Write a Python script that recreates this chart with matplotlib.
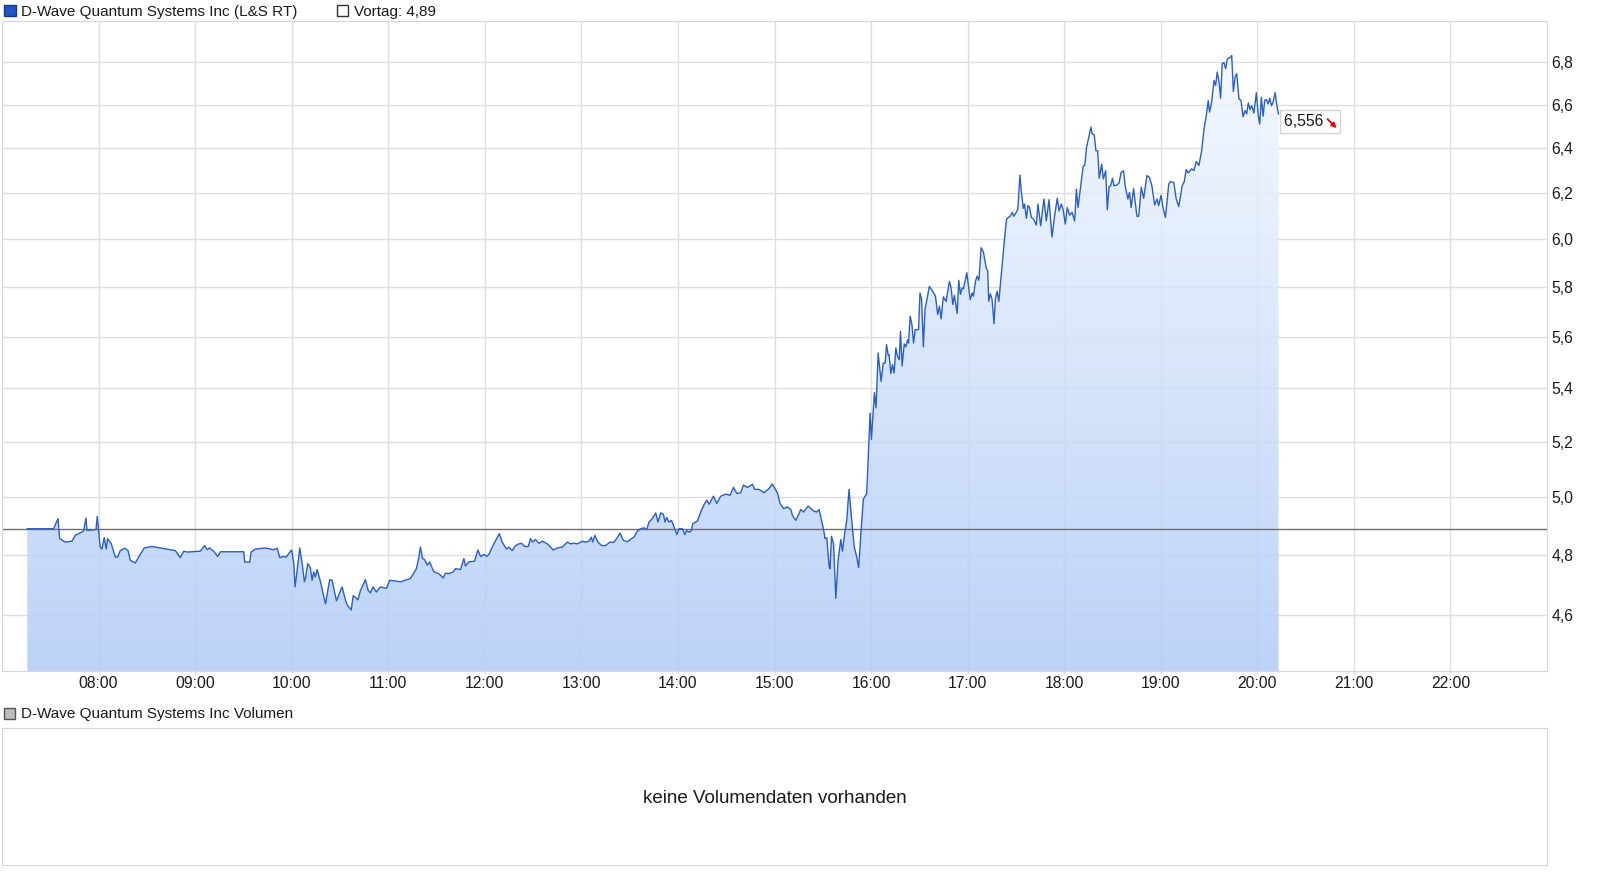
import numpy as np
import matplotlib
matplotlib.use('Agg')
import matplotlib.pyplot as plt
import matplotlib.transforms as mtransforms
from matplotlib.patches import Rectangle, FancyArrowPatch
from matplotlib.ticker import FixedLocator, FuncFormatter, NullLocator

plt.rcParams['font.family'] = ['Liberation Sans', 'DejaVu Sans']

# ---- data ----
series_name = 'D-Wave Quantum Systems Inc (L&S RT)'
volume_name = 'D-Wave Quantum Systems Inc Volumen'
no_volume_text = 'keine Volumendaten vorhanden'
prev_close = 4.89
last_price = 6.556

# minutes since midnight
minutes = [
    435.7, 452.0, 454.8, 455.8, 459.3, 463.5, 465.5, 470.7, 472.2, 472.8, 478.4, 479.2,
    481.0, 482.1, 483.5, 484.8, 485.6, 487.9, 490.4, 491.8, 493.5, 496.2, 498.3, 499.7,
    502.8, 505.9, 508.4, 513.2, 518.4, 522.5, 527.7, 530.8, 532.9, 535.0, 543.2, 545.9,
    547.4, 549.0, 551.5, 554.0, 555.7, 570.2, 570.8, 573.9, 574.8, 577.4, 583.7, 588.8,
    591.0, 592.6, 594.7, 596.7, 598.4, 600.0, 601.3, 602.1, 603.4, 605.0, 606.5, 607.9,
    608.7, 610.0, 611.6, 612.7, 613.7, 614.7, 615.8, 617.9, 621.0, 623.6, 625.1, 627.8,
    631.3, 633.4, 634.5, 637.0, 638.2, 639.7, 641.1, 642.8, 645.8, 647.5, 648.9, 650.6,
    652.6, 655.1, 658.9, 660.9, 663.4, 667.6,
    673.8, 677.5, 679.0, 680.0, 681.3, 682.5, 684.2, 685.8, 688.3, 691.4, 694.1, 695.6,
    697.6, 700.4, 701.8, 704.9, 707.0, 708.0, 710.1, 713.6, 715.7, 717.4, 719.8, 721.1,
    722.5, 725.6, 729.0, 730.8, 733.5, 734.9, 737.0, 739.1, 741.2, 742.8, 744.7, 747.0,
    748.4, 749.7, 751.5, 753.6, 755.7, 758.8, 762.5, 765.0, 768.1, 771.3, 773.3, 775.4,
    777.5, 780.6, 782.6, 784.7, 786.2, 787.0, 788.4, 790.3, 792.6, 795.1, 797.7, 800.2,
    802.3, 804.0, 806.1, 808.6, 811.1, 812.7, 814.8,
    816.8, 818.9, 820.6, 822.0, 824.1, 826.2, 827.6, 829.3, 831.0, 832.0, 833.0, 834.5,
    836.0, 837.6, 839.3, 840.7, 842.8, 844.3, 845.4, 846.9, 848.4, 849.2, 852.1, 854.6,
    856.6, 857.9, 859.3, 862.1, 864.1, 866.6, 869.7, 872.4, 874.5, 876.6, 879.0, 880.7,
    883.2, 886.3, 887.7, 890.4, 893.5, 896.6, 898.7, 900.2, 901.8, 903.5, 905.6, 908.1,
    910.1, 911.2, 913.2, 915.3, 916.3, 918.0, 920.9, 924.2, 926.3, 927.7, 930.4, 931.4,
    932.5, 933.9, 934.5, 935.4, 936.7, 938.1, 939.5, 941.2, 942.2, 943.7, 944.9, 946.3,
    947.8, 949.5, 951.1, 952.3, 953.8, 955.2, 957.3, 959.4, 960.2, 962.1, 963.1, 964.4,
    966.2, 967.6, 968.8, 969.6, 970.7, 971.2, 972.3, 973.3, 974.3, 975.4, 976.4, 977.5,
    978.3, 979.3, 980.6, 981.6, 982.7, 983.3, 984.3, 985.4, 986.4, 987.4, 989.5, 990.4,
    991.4, 992.5, 993.5, 994.5, 996.2, 998.3, 1000.0, 1001.4, 1002.5, 1003.5, 1004.9, 1006.6,
    1008.7, 1009.7, 1010.8, 1011.8, 1013.5, 1014.5, 1015.5, 1016.6, 1017.4, 1019.5, 1021.6, 1022.8,
    1023.6, 1024.9, 1025.9, 1027.0, 1028.4, 1029.8, 1031.5, 1032.5, 1033.1, 1034.1, 1035.2, 1036.4,
    1037.3, 1038.3, 1039.4,
    1041.9, 1042.9, 1044.2, 1045.4, 1046.6, 1047.7, 1048.7, 1050.2, 1051.2, 1052.5, 1053.3, 1054.6,
    1055.4, 1056.5, 1057.5, 1058.5, 1059.6, 1061.0, 1062.7, 1063.7, 1065.4, 1067.4, 1068.9, 1070.6,
    1072.4, 1074.1, 1075.7, 1076.8, 1078.2, 1079.3, 1080.7, 1081.9, 1083.4, 1084.9, 1086.5, 1087.6,
    1088.6, 1090.3, 1091.8, 1092.8, 1093.9, 1095.3, 1096.6, 1097.4, 1098.7, 1099.7, 1100.8, 1101.8,
    1103.3, 1104.3, 1105.8, 1106.8, 1107.9, 1108.9, 1110.0, 1111.0, 1112.7, 1114.1, 1115.4, 1116.9,
    1117.9, 1119.6, 1120.6, 1121.6, 1123.1, 1125.2, 1126.3, 1127.9, 1129.4, 1131.4, 1132.9, 1134.5,
    1136.2, 1137.7, 1138.7, 1140.2, 1141.4, 1142.9, 1145.0, 1146.0, 1148.1, 1149.6, 1151.2, 1153.3,
    1154.6, 1155.8, 1157.1, 1159.2, 1160.6, 1162.1, 1163.7, 1165.4,
    1166.9, 1168.3, 1169.5, 1170.3, 1171.6, 1173.1, 1174.1, 1175.1, 1176.2, 1177.2, 1178.2, 1179.3,
    1180.3, 1181.4, 1183.4, 1184.1, 1185.1, 1186.2, 1187.2, 1188.6, 1189.9, 1191.1, 1192.4, 1193.4,
    1194.4, 1195.5, 1196.5, 1197.9, 1199.4, 1200.6, 1201.5, 1202.5, 1203.6, 1204.6, 1205.6, 1206.7,
    1207.7, 1208.8, 1209.8, 1211.1, 1211.9, 1213.2,
]
prices = [
    4.890, 4.890, 4.925, 4.856, 4.844, 4.847, 4.867, 4.882, 4.927, 4.884, 4.887, 4.933,
    4.827, 4.820, 4.859, 4.820, 4.856, 4.838, 4.793, 4.793, 4.815, 4.823, 4.815, 4.782,
    4.773, 4.802, 4.824, 4.829, 4.824, 4.820, 4.815, 4.791, 4.813, 4.810, 4.813, 4.832,
    4.818, 4.824, 4.813, 4.795, 4.811, 4.811, 4.776, 4.776, 4.810, 4.820, 4.824, 4.818,
    4.823, 4.791, 4.795, 4.793, 4.807, 4.817, 4.771, 4.693, 4.749, 4.824, 4.771, 4.710,
    4.726, 4.771, 4.757, 4.715, 4.743, 4.726, 4.751, 4.710, 4.637, 4.717, 4.715, 4.647,
    4.693, 4.650, 4.633, 4.617, 4.664, 4.658, 4.650, 4.682, 4.717, 4.682, 4.673, 4.693,
    4.676, 4.693, 4.688, 4.715, 4.713, 4.710,
    4.721, 4.754, 4.793, 4.827, 4.788, 4.785, 4.766, 4.776, 4.743, 4.737, 4.723, 4.739,
    4.737, 4.743, 4.754, 4.751, 4.788, 4.763, 4.777, 4.779, 4.817, 4.795, 4.802, 4.795,
    4.802, 4.838, 4.873, 4.844, 4.820, 4.827, 4.815, 4.832, 4.838, 4.840, 4.829, 4.829,
    4.856, 4.844, 4.853, 4.840, 4.847, 4.838, 4.817, 4.824, 4.827, 4.844, 4.838, 4.840,
    4.838, 4.847, 4.844, 4.847, 4.861, 4.844, 4.867, 4.844, 4.832, 4.832, 4.844, 4.843,
    4.859, 4.875, 4.850, 4.845, 4.856, 4.861, 4.882,
    4.890, 4.893, 4.887, 4.913, 4.925, 4.945, 4.913, 4.945, 4.940, 4.913, 4.929, 4.913,
    4.919, 4.896, 4.870, 4.890, 4.890, 4.870, 4.884, 4.878, 4.884, 4.907, 4.917, 4.954,
    4.978, 4.990, 4.975, 5.004, 4.978, 5.004, 5.011, 5.007, 5.035, 5.013, 5.016, 5.043,
    5.035, 5.046, 5.028, 5.028, 5.016, 5.031, 5.047, 5.031, 5.016, 4.978, 4.960, 4.966,
    4.957, 4.936, 4.919, 4.943, 4.957, 4.948, 4.969, 4.952, 4.948, 4.957, 4.890, 4.856,
    4.859, 4.763, 4.754, 4.864, 4.838, 4.655, 4.782, 4.853, 4.813, 4.878, 4.919, 5.028,
    4.931, 4.829, 4.793, 4.757, 4.884, 4.993, 5.013, 5.307, 5.209, 5.384, 5.326, 5.537,
    5.427, 5.498, 5.498, 5.570, 5.527, 5.530, 5.457, 5.492, 5.459, 5.557, 5.524, 5.511,
    5.622, 5.486, 5.573, 5.561, 5.589, 5.576, 5.683, 5.649, 5.576, 5.629, 5.629, 5.777,
    5.750, 5.561, 5.709, 5.743, 5.804, 5.784, 5.764, 5.690, 5.723, 5.672, 5.761, 5.743,
    5.825, 5.798, 5.730, 5.767, 5.694, 5.829, 5.771, 5.798, 5.794, 5.860, 5.750, 5.777,
    5.764, 5.825, 5.846, 5.829, 5.965, 5.947, 5.881, 5.867, 5.743, 5.774, 5.750, 5.653,
    5.756, 5.784, 5.743,
    5.923, 6.000, 6.087, 6.094, 6.101, 6.116, 6.099, 6.116, 6.130, 6.280, 6.210, 6.133,
    6.152, 6.090, 6.145, 6.137, 6.094, 6.087, 6.061, 6.152, 6.058, 6.174, 6.079, 6.171,
    6.010, 6.104, 6.177, 6.122, 6.152, 6.130, 6.065, 6.137, 6.104, 6.116, 6.079, 6.217,
    6.137, 6.235, 6.319, 6.322, 6.404, 6.450, 6.496, 6.465, 6.460, 6.388, 6.388, 6.265,
    6.328, 6.262, 6.299, 6.127, 6.229, 6.232, 6.265, 6.232, 6.235, 6.244, 6.292, 6.298,
    6.232, 6.174, 6.203, 6.137, 6.220, 6.099, 6.099, 6.225, 6.177, 6.277, 6.270, 6.232,
    6.148, 6.174, 6.145, 6.190, 6.137, 6.094, 6.240, 6.250, 6.247, 6.174, 6.141, 6.232,
    6.250, 6.304, 6.289, 6.307, 6.299, 6.340, 6.322, 6.388,
    6.488, 6.549, 6.619, 6.565, 6.611, 6.714, 6.690, 6.754, 6.707, 6.630, 6.794, 6.799,
    6.770, 6.817, 6.826, 6.833, 6.662, 6.731, 6.746, 6.627, 6.619, 6.544, 6.572, 6.557,
    6.608, 6.577, 6.595, 6.561, 6.656, 6.549, 6.510, 6.635, 6.546, 6.619, 6.624, 6.603,
    6.630, 6.595, 6.611, 6.656, 6.608, 6.556,
]

hour_ticks = list(range(8, 23))
price_ticks = [4.6, 4.8, 5.0, 5.2, 5.4, 5.6, 5.8, 6.0, 6.2, 6.4, 6.6, 6.8]

W, H = 1611, 881
grid_col = '#dedede'
spine_col = '#d6d6d6'
text_col = '#1a1a1a'
line_col = '#2a5fc9'
fs = 11.3
fs_leg = 11.0

fig = plt.figure(figsize=(W / 100, H / 100), dpi=100)
fig.patch.set_facecolor('white')
# pixel coords from the top-left corner
px = mtransforms.Affine2D().scale(1 / W, -1 / H).translate(0, 1) + fig.transFigure


def px_box(x0, y0, x1, y1):
    return [x0 / W, 1 - y1 / H, (x1 - x0) / W, (y1 - y0) / H]


ax = fig.add_axes(px_box(2, 21, 1547, 671))
ax_vol = fig.add_axes(px_box(2, 728, 1547, 865))

x = np.array(minutes) / 60.0
y = np.array(prices)
ymin, ymax = 4.422, 7.002

ax.set_yscale('log')
ax.set_axisbelow(True)
ax.grid(True, color=grid_col, lw=1.0)

# gradient area under the line
area = ax.fill_between(x, y, ymin, facecolor='none', edgecolor='none')
t = np.linspace(0, 1, 256)[:, None, None]
top_rgb = np.array([246.8, 250.3, 255.0]) / 255
bot_rgb = np.array([176.2, 203.2, 246.8]) / 255
img = np.ones((256, 2, 4))
img[:, :, :3] = top_rgb + (bot_rgb - top_rgb) * t
img[:, :, 3] = 0.85
im = ax.imshow(img, extent=(0, 1, 0, 1), transform=ax.transAxes, aspect='auto',
               interpolation='bilinear', zorder=1)
im.set_clip_path(area.get_paths()[0], transform=ax.transData)

ax.axhline(prev_close, color='#6e6e6e', lw=1.0, zorder=2.5)
ax.plot(x, y, color=line_col, lw=1.0, zorder=3)

ax.set_xlim(7, 23)
ax.set_ylim(ymin, ymax)

ax.xaxis.set_major_locator(FixedLocator(hour_ticks))
ax.xaxis.set_major_formatter(FuncFormatter(lambda v, _: '%02d:00' % int(round(v))))
ax.yaxis.set_major_locator(FixedLocator(price_ticks))
ax.yaxis.set_minor_locator(NullLocator())
ax.yaxis.set_major_formatter(FuncFormatter(lambda v, _: ('%.1f' % v).replace('.', ',')))
ax.yaxis.tick_right()
ax.tick_params(axis='y', length=0, pad=3.3, labelsize=fs, labelcolor=text_col)
ax.tick_params(axis='x', length=1.8, width=1, color=grid_col, pad=1.5,
               labelsize=fs, labelcolor=text_col)
for s in ax.spines.values():
    s.set_color(spine_col)

# last price box with a small red down arrow inside
ax.annotate(('%.3f' % last_price).replace('.', ',') + '   ', xy=(x[-1], last_price),
            xytext=(5, -7), textcoords='offset pixels', ha='left', va='center',
            fontsize=fs, color=text_col, zorder=5,
            bbox=dict(boxstyle='square,pad=0.25', fc='white', ec='#d4d4d4', lw=1))
lx, ly = ax.transData.transform((x[-1], last_price))
arrow = FancyArrowPatch((lx + 49, ly - 5), (lx + 58, ly - 14), arrowstyle='-|>',
                        mutation_scale=7, color='#e00000', lw=1.3,
                        shrinkA=0, shrinkB=0, transform=mtransforms.IdentityTransform(),
                        zorder=6)
fig.add_artist(arrow)

# volume panel
ax_vol.set_xticks([])
ax_vol.set_yticks([])
for s in ax_vol.spines.values():
    s.set_color(spine_col)
ax_vol.text(0.5, 0.487, no_volume_text, ha='center', va='center', fontsize=13.5,
            color=text_col, transform=ax_vol.transAxes)

# legends
fig.add_artist(Rectangle((3.5, 4.5), 12, 11.5, transform=px, fc='#1f56c4', ec='#173a80', lw=1))
fig.text(21 / W, 1 - 16.3 / H, series_name, fontsize=fs_leg, color=text_col, va='baseline')
fig.add_artist(Rectangle((337, 5), 11, 11, transform=px, fc='white', ec='#333333', lw=1))
fig.text(354.5 / W, 1 - 16.3 / H, 'Vortag: ' + ('%.2f' % prev_close).replace('.', ','),
         fontsize=fs_leg, color=text_col, va='baseline')
fig.add_artist(Rectangle((3.5, 707.5), 11.5, 11, transform=px, fc='#bdbdbd', ec='#555555', lw=1))
fig.text(21 / W, 1 - 718.3 / H, volume_name, fontsize=fs_leg, color=text_col, va='baseline')

fig.savefig('out.png', dpi=100)
